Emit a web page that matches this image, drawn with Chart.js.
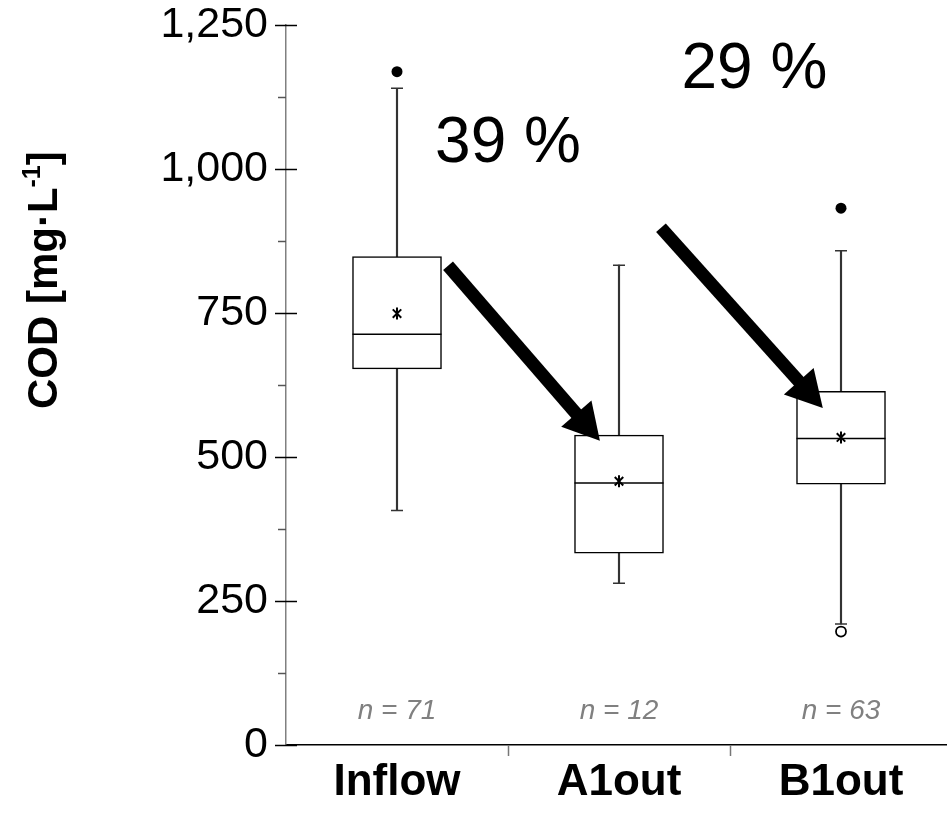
<!DOCTYPE html>
<html>
<head>
<meta charset="utf-8">
<script src="https://cdn.jsdelivr.net/npm/chart.js@4"></script>
<style>
  html, body { margin: 0; padding: 0; background: #fff; overflow: hidden; }
  #wrap { width: 952px; height: 816px; }
</style>
</head>
<body>
<div id="wrap"><canvas id="c" width="952" height="816"></canvas></div>
<script>
// ---- data ----
const categories   = ['Inflow', 'A1out', 'B1out'];
const q1           = [653, 333, 453];
const q3           = [848, 538, 614];
const medians      = [713, 455, 532];
const means        = [749, 458, 534];
const whiskerLow   = [407, 281, 210];
const whiskerHigh  = [1140, 833, 858];
const outlierCats  = ['Inflow', 'B1out'];
const outlierVals  = [1169, 932];
const openOutCats  = ['B1out'];
const openOutVals  = [197];
const nCounts      = [71, 12, 63];
const reductions   = ['39 %', '29 %'];
const reductionPos = [[0.5, 1043], [1.61, 1172]];          // [category index, value]
const arrows       = [[[0.23, 832], [0.914, 528]], [[1.189, 898], [1.918, 585]]];
const yTickValues  = [0, 250, 500, 750, 1000, 1250];
const nLabelValue  = 59;
const yTitleParts  = ['COD [mg·L', '-1', ']'];
const yTitleCenter = 807;

const FONT = "Arial, 'Liberation Sans', sans-serif";

const pts = (cats, vals) => cats.map((c, i) => ({ x: c, y: vals[i] }));

const axisDecor = {
  id: 'axisDecor',
  afterDraw(chart) {
    const ctx = chart.ctx;
    const y = chart.scales.y, x = chart.scales.x;
    const ax = y.right;
    ctx.save();
    // y ticks: major cross the axis, minor outside only
    for (let v = 0; v <= 1250; v += 125) {
      const py = Math.round(y.getPixelForValue(v)) + 0.5;
      const major = yTickValues.includes(v);
      ctx.beginPath();
      ctx.strokeStyle = major ? '#000' : '#555';
      ctx.lineWidth = 1.5;
      ctx.moveTo(ax - (major ? 11 : 8), py);
      ctx.lineTo(major ? ax + 11 : ax, py);
      ctx.stroke();
    }
    // x ticks between categories
    const bottom = x.top;
    for (let i = 0.5; i < categories.length - 0.5; i += 1) {
      const px = Math.round(x.getPixelForValue(i)) + 0.5;
      ctx.beginPath();
      ctx.strokeStyle = '#777';
      ctx.lineWidth = 1.5;
      ctx.moveTo(px, bottom);
      ctx.lineTo(px, bottom + 11);
      ctx.stroke();
    }
    // y axis title with superscript
    ctx.save();
    ctx.translate(45, y.getPixelForValue(yTitleCenter));
    ctx.rotate(-Math.PI / 2);
    ctx.fillStyle = '#000';
    ctx.textBaseline = 'middle';
    ctx.textAlign = 'left';
    const big = 'bold 42px ' + FONT, small = 'bold 25px ' + FONT;
    ctx.font = big; const w0 = ctx.measureText(yTitleParts[0]).width;
    const w2 = ctx.measureText(yTitleParts[2]).width;
    ctx.font = small; const w1 = ctx.measureText(yTitleParts[1]).width;
    let sx = -(w0 + w1 + w2) / 2;
    ctx.font = big; ctx.fillText(yTitleParts[0], sx, 0); sx += w0;
    ctx.font = small; ctx.fillText(yTitleParts[1], sx, -12); sx += w1;
    ctx.font = big; ctx.fillText(yTitleParts[2], sx, 0);
    ctx.restore();
    // n labels
    ctx.fillStyle = '#808080';
    ctx.font = 'italic 28px ' + FONT;
    ctx.textAlign = 'center';
    ctx.textBaseline = 'middle';
    categories.forEach((c, i) => {
      ctx.fillText('n = ' + nCounts[i], x.getPixelForValue(i), y.getPixelForValue(nLabelValue));
    });
    // reduction percentages
    ctx.fillStyle = '#000';
    ctx.font = '64px ' + FONT;
    reductions.forEach((t, i) => {
      ctx.fillText(t, x.getPixelForValue(reductionPos[i][0]), y.getPixelForValue(reductionPos[i][1]));
    });
    // arrows
    arrows.forEach(a => {
      const x0 = x.getPixelForValue(a[0][0]), y0 = y.getPixelForValue(a[0][1]);
      const x1 = x.getPixelForValue(a[1][0]), y1 = y.getPixelForValue(a[1][1]);
      const ang = Math.atan2(y1 - y0, x1 - x0);
      const headLen = 36, headHalf = 20;
      const bx = x1 - Math.cos(ang) * headLen, by = y1 - Math.sin(ang) * headLen;
      ctx.beginPath();
      ctx.strokeStyle = '#000';
      ctx.lineWidth = 13;
      ctx.lineCap = 'butt';
      ctx.moveTo(x0, y0);
      ctx.lineTo(bx + Math.cos(ang) * 2, by + Math.sin(ang) * 2);
      ctx.stroke();
      ctx.beginPath();
      ctx.fillStyle = '#000';
      ctx.moveTo(x1, y1);
      ctx.lineTo(bx - Math.sin(ang) * headHalf, by + Math.cos(ang) * headHalf);
      ctx.lineTo(bx + Math.sin(ang) * headHalf, by - Math.cos(ang) * headHalf);
      ctx.closePath();
      ctx.fill();
    });
    ctx.restore();
  }
};

new Chart(document.getElementById('c'), {
  type: 'bar',
  data: {
    labels: categories,
    datasets: [
      { type: 'line', label: 'mean-x', data: pts(categories, means), showLine: false,
        pointStyle: 'crossRot', pointRadius: 6, pointBorderWidth: 2, pointBorderColor: '#000', order: 0 },
      { type: 'line', label: 'mean-v', data: pts(categories, means), showLine: false,
        pointStyle: 'line', rotation: 90, pointRadius: 6, pointBorderWidth: 2, pointBorderColor: '#000', order: 0 },
      { type: 'line', label: 'median', data: pts(categories, medians), showLine: false,
        pointStyle: 'line', pointRadius: 44.5, pointBorderWidth: 1.5, pointBorderColor: '#000', order: 1 },
      { type: 'line', label: 'capHigh', data: pts(categories, whiskerHigh), showLine: false,
        pointStyle: 'line', pointRadius: 6, pointBorderWidth: 1.5, pointBorderColor: '#333', order: 1 },
      { type: 'line', label: 'capLow', data: pts(categories, whiskerLow), showLine: false,
        pointStyle: 'line', pointRadius: 6, pointBorderWidth: 1.5, pointBorderColor: '#333', order: 1 },
      { type: 'line', label: 'outliers', data: pts(outlierCats, outlierVals), showLine: false,
        pointStyle: 'circle', pointRadius: 5.5, pointBorderWidth: 0, pointBackgroundColor: '#000', pointBorderColor: '#000', order: 1 },
      { type: 'line', label: 'outliersOpen', data: pts(openOutCats, openOutVals), showLine: false,
        pointStyle: 'circle', pointRadius: 5, pointBorderWidth: 1.8, pointBackgroundColor: '#fff', pointBorderColor: '#000', order: 1 },
      { type: 'bar', label: 'box', data: categories.map((c, i) => [q1[i], q3[i]]),
        backgroundColor: '#fff', borderColor: '#000', borderWidth: 1.5, borderSkipped: false,
        barThickness: 89, grouped: false, order: 2 },
      { type: 'bar', label: 'whisker', data: categories.map((c, i) => [whiskerLow[i], whiskerHigh[i]]),
        backgroundColor: '#333', borderWidth: 0, barThickness: 1.5, grouped: false, order: 3 }
    ]
  },
  options: {
    responsive: false,
    animation: false,
    devicePixelRatio: 1,
    layout: { autoPadding: false, padding: { top: 25, left: 0, right: 0, bottom: 0 } },
    plugins: { legend: { display: false }, tooltip: { enabled: false } },
    scales: {
      x: {
        type: 'category',
        offset: true,
        grid: { display: false, drawTicks: false },
        border: { display: true, color: '#000', width: 1.5 },
        ticks: { color: '#000', font: { family: FONT, size: 44, weight: 'bold' }, padding: 11, maxRotation: 0 },
        afterFit(s) { s.height = 71; s.paddingLeft = 0; s.paddingRight = 0; }
      },
      y: {
        min: 0, max: 1250,
        grid: { display: false, drawTicks: false },
        border: { display: true, color: '#808080', width: 1.5 },
        ticks: {
          stepSize: 250, color: '#000', padding: 18,
          font: { family: FONT, size: 43 },
          callback: v => v.toLocaleString('en-US')
        },
        title: { display: false },
        afterFit(s) { s.width = 286; s.paddingTop = 0; s.paddingBottom = 0; }
      }
    }
  },
  plugins: [axisDecor]
});
</script>
</body>
</html>
